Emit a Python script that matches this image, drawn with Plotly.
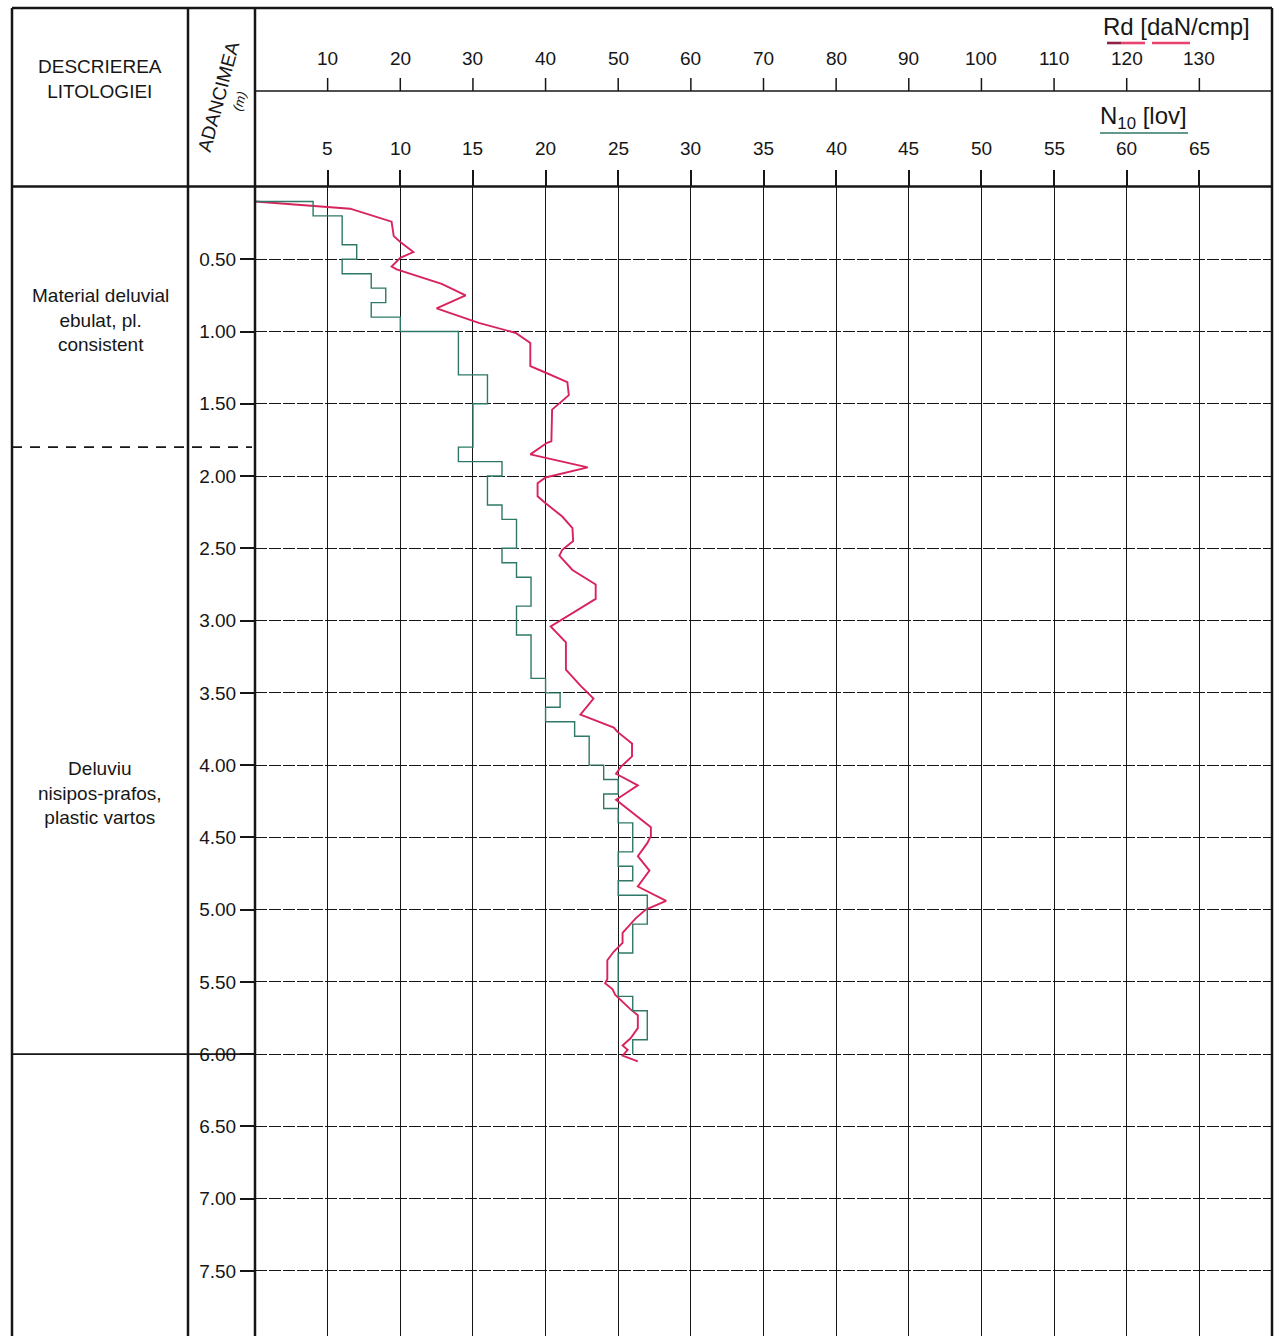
import plotly.graph_objects as go

# ---------------- data ----------------
# Rd [daN/cmp] dynamic resistance curve (depth m, value)
rd_depth = [0.10, 0.15, 0.24, 0.34, 0.38, 0.45, 0.49, 0.55, 0.57, 0.67, 0.75, 0.84, 0.94,
            1.01, 1.08, 1.24, 1.28, 1.35, 1.44, 1.49, 1.54, 1.76, 1.77, 1.85, 1.94,
            2.01, 2.05, 2.14, 2.18, 2.28, 2.36, 2.45, 2.51, 2.55, 2.65, 2.75, 2.85,
            3.04, 3.15, 3.34, 3.45, 3.54, 3.65, 3.74, 3.77, 3.85, 3.94,
            4.01, 4.06, 4.14, 4.24, 4.43, 4.49, 4.54, 4.63, 4.73, 4.84, 4.94,
            5.00, 5.06, 5.16, 5.23, 5.29, 5.35, 5.48, 5.51, 5.55, 5.59, 5.69, 5.73,
            5.82, 5.89, 5.94, 5.97, 6.01, 6.05]
rd_value = [0.0, 13.1, 18.8, 19.1, 20.0, 21.8, 20.0, 18.8, 19.5, 25.7, 29.0, 25.0, 30.8,
            35.9, 37.9, 37.9, 39.8, 43.0, 43.2, 42.1, 40.9, 40.8, 40.2, 37.9, 45.8,
            40.0, 38.9, 38.9, 39.8, 42.3, 43.7, 43.8, 42.3, 41.9, 43.7, 46.9, 46.9,
            40.7, 42.8, 42.8, 44.8, 46.6, 44.8, 49.4, 49.9, 51.9, 51.9,
            50.4, 49.7, 52.7, 49.7, 54.5, 54.5, 54.0, 52.7, 54.3, 52.7, 56.6,
            53.8, 52.4, 50.6, 50.6, 49.4, 48.5, 48.5, 48.2, 49.2, 49.6, 51.7, 52.7,
            52.7, 51.7, 50.6, 51.3, 50.6, 52.7]

# N10 [lov] blow counts per 10 cm (start depth, then interval bottoms)
n10_start = 0.1
n10_bottom = [0.2, 0.3, 0.4, 0.5, 0.6, 0.7, 0.8, 0.9, 1.0,
              1.1, 1.2, 1.3, 1.4, 1.5, 1.6, 1.7, 1.8, 1.9, 2.0,
              2.1, 2.2, 2.3, 2.4, 2.5, 2.6, 2.7, 2.8, 2.9, 3.0,
              3.1, 3.2, 3.3, 3.4, 3.5, 3.6, 3.7, 3.8, 3.9, 4.0,
              4.1, 4.2, 4.3, 4.4, 4.5, 4.6, 4.7, 4.8, 4.9, 5.0,
              5.1, 5.2, 5.3, 5.4, 5.5, 5.6, 5.7, 5.8, 5.9, 6.0]
n10_value = [4, 6, 6, 7, 6, 8, 9, 8, 10,
             14, 14, 14, 16, 16, 15, 15, 15, 14, 17,
             16, 16, 17, 18, 18, 17, 18, 19, 19, 18,
             18, 19, 19, 19, 20, 21, 20, 22, 23, 23,
             24, 25, 24, 25, 26, 26, 25, 26, 25, 27,
             27, 26, 26, 25, 25, 25, 26, 27, 27, 26]

rd_ticks = [10, 20, 30, 40, 50, 60, 70, 80, 90, 100, 110, 120, 130]
n10_ticks = [5, 10, 15, 20, 25, 30, 35, 40, 45, 50, 55, 60, 65]
depth_ticks = [0.5, 1.0, 1.5, 2.0, 2.5, 3.0, 3.5, 4.0, 4.5, 5.0, 5.5, 6.0, 6.5, 7.0, 7.5]
depth_labels = ["0.50", "1.00", "1.50", "2.00", "2.50", "3.00", "3.50", "4.00",
                "4.50", "5.00", "5.50", "6.00", "6.50", "7.00", "7.50"]

layer_names = ["Material deluvial<br>ebulat, pl.<br>consistent",
               "Deluviu<br>nisipos-prafos,<br>plastic vartos"]
layer_label_depth = [0.92, 4.19]
layer_bounds = [1.8, 6.0]
layer_bound_dash = ["10px,8px", "solid"]

# ---------------- layout geometry ----------------
W, H = 1278, 1336
L, R, T, B = 255, 6, 187, 0
PW, PH = W - L - R, H - T - B


def fx(x):
    return (x - L) / PW


def fy(y):
    return (H - B - y) / PH


FONT = "Liberation Sans, Arial, sans-serif"
INK = "#161616"
RED = "#d8235c"
GREEN = "#2f7868"

fig = go.Figure()

fig.add_trace(go.Scatter(
    x=[0] + n10_value, y=[n10_start] + n10_bottom,
    mode="lines", line=dict(color=GREEN, width=1.4, shape="hv"),
    xaxis="x2", yaxis="y", name="N10", hoverinfo="x+y"))

fig.add_trace(go.Scatter(
    x=rd_value, y=rd_depth, mode="lines",
    line=dict(color=RED, width=1.9), xaxis="x", yaxis="y", name="Rd"))

shapes = []
annotations = []


def note(text, x, y, size=19, xref="paper", yref="paper", **kw):
    annotations.append(dict(xref=xref, yref=yref, x=x, y=y, text=text,
                            showarrow=False, xanchor="center", yanchor="middle",
                            font=dict(family=FONT, size=size, color=INK), **kw))


def hline(x0, x1, y, w=2.5, dash="solid", color=INK):
    shapes.append(dict(type="line", xref="paper", yref="paper",
                       x0=fx(x0), x1=fx(x1), y0=fy(y), y1=fy(y),
                       line=dict(color=color, width=w, dash=dash), layer="above"))


def vline(x, y0, y1, w=2.5):
    shapes.append(dict(type="line", xref="paper", yref="paper",
                       x0=fx(x), x1=fx(x), y0=fy(y0), y1=fy(y1),
                       line=dict(color=INK, width=w), layer="above"))


# frame
hline(12, 1272, 8)
hline(12, 1272, 186.5)
hline(255, 1272, 91, w=1.6)
vline(12, 8, H)
vline(188, 8, H)
vline(255, 8, H)
vline(1272, 8, H)

# Rd axis ticks (in header) and labels
for v in rd_ticks:
    shapes.append(dict(type="line", xref="x", yref="paper", x0=v, x1=v,
                       y0=fy(91), y1=fy(78), line=dict(color=INK, width=1.5)))
    note(str(v), v, fy(59), xref="x")

# N10 labels
for v in n10_ticks:
    note(str(v), v, fy(149), xref="x2")

# legend titles
note("Rd [daN/cmp]", fx(1176), fy(27), size=24)
hline(1107, 1121, 43, w=2.6, color="#8e2244")
hline(1121, 1145, 43, w=2.6, color="#e8436e")
hline(1152, 1190, 43, w=2.6, color="#e8436e")
note("N<sub>10</sub> [lov]", fx(1143), fy(117), size=24)
hline(1100, 1188, 133, w=1.6, color=GREEN)

# column headers
note("DESCRIEREA<br>LITOLOGIEI", fx(100), fy(79), size=19)
note("ADANCIMEA", fx(218), fy(97), size=19, textangle=-75)
note("<i>(m)</i>", fx(240), fy(101), size=13, textangle=-75)

# lithology
for name, d in zip(layer_names, layer_label_depth):
    note(name, fx(100), d, size=19, yref="y", align="center")
for d, dash in zip(layer_bounds, layer_bound_dash):
    shapes.append(dict(type="line", xref="paper", yref="y", x0=fx(12), x1=fx(252),
                       y0=d, y1=d, line=dict(color=INK, width=1.6, dash=dash),
                       layer="above"))

fig.update_layout(
    width=W, height=H,
    margin=dict(l=L, r=R, t=T, b=B),
    paper_bgcolor="white", plot_bgcolor="white",
    showlegend=False,
    font=dict(family=FONT, color=INK),
    xaxis=dict(range=[0, 140], tick0=0, dtick=10, showgrid=True, gridcolor=INK,
               gridwidth=1.4, showticklabels=False, ticks="", zeroline=False,
               showline=False, fixedrange=True),
    xaxis2=dict(range=[0, 70], overlaying="x", side="top", anchor="y",
                tickvals=n10_ticks, ticks="outside", ticklen=16, tickwidth=1.5,
                tickcolor=INK, showticklabels=False, showgrid=False,
                zeroline=False, showline=False, fixedrange=True),
    yaxis=dict(range=[7.95, 0], tickvals=depth_ticks, ticktext=depth_labels,
               ticks="outside", ticklen=14, tickwidth=1.5, tickcolor=INK,
               showgrid=True, gridcolor=INK, gridwidth=1.4, griddash="12px,2px",
               tickfont=dict(family=FONT, size=19, color=INK),
               zeroline=False, showline=False, fixedrange=True),
    shapes=shapes, annotations=annotations,
)

fig.write_html("out.html")
